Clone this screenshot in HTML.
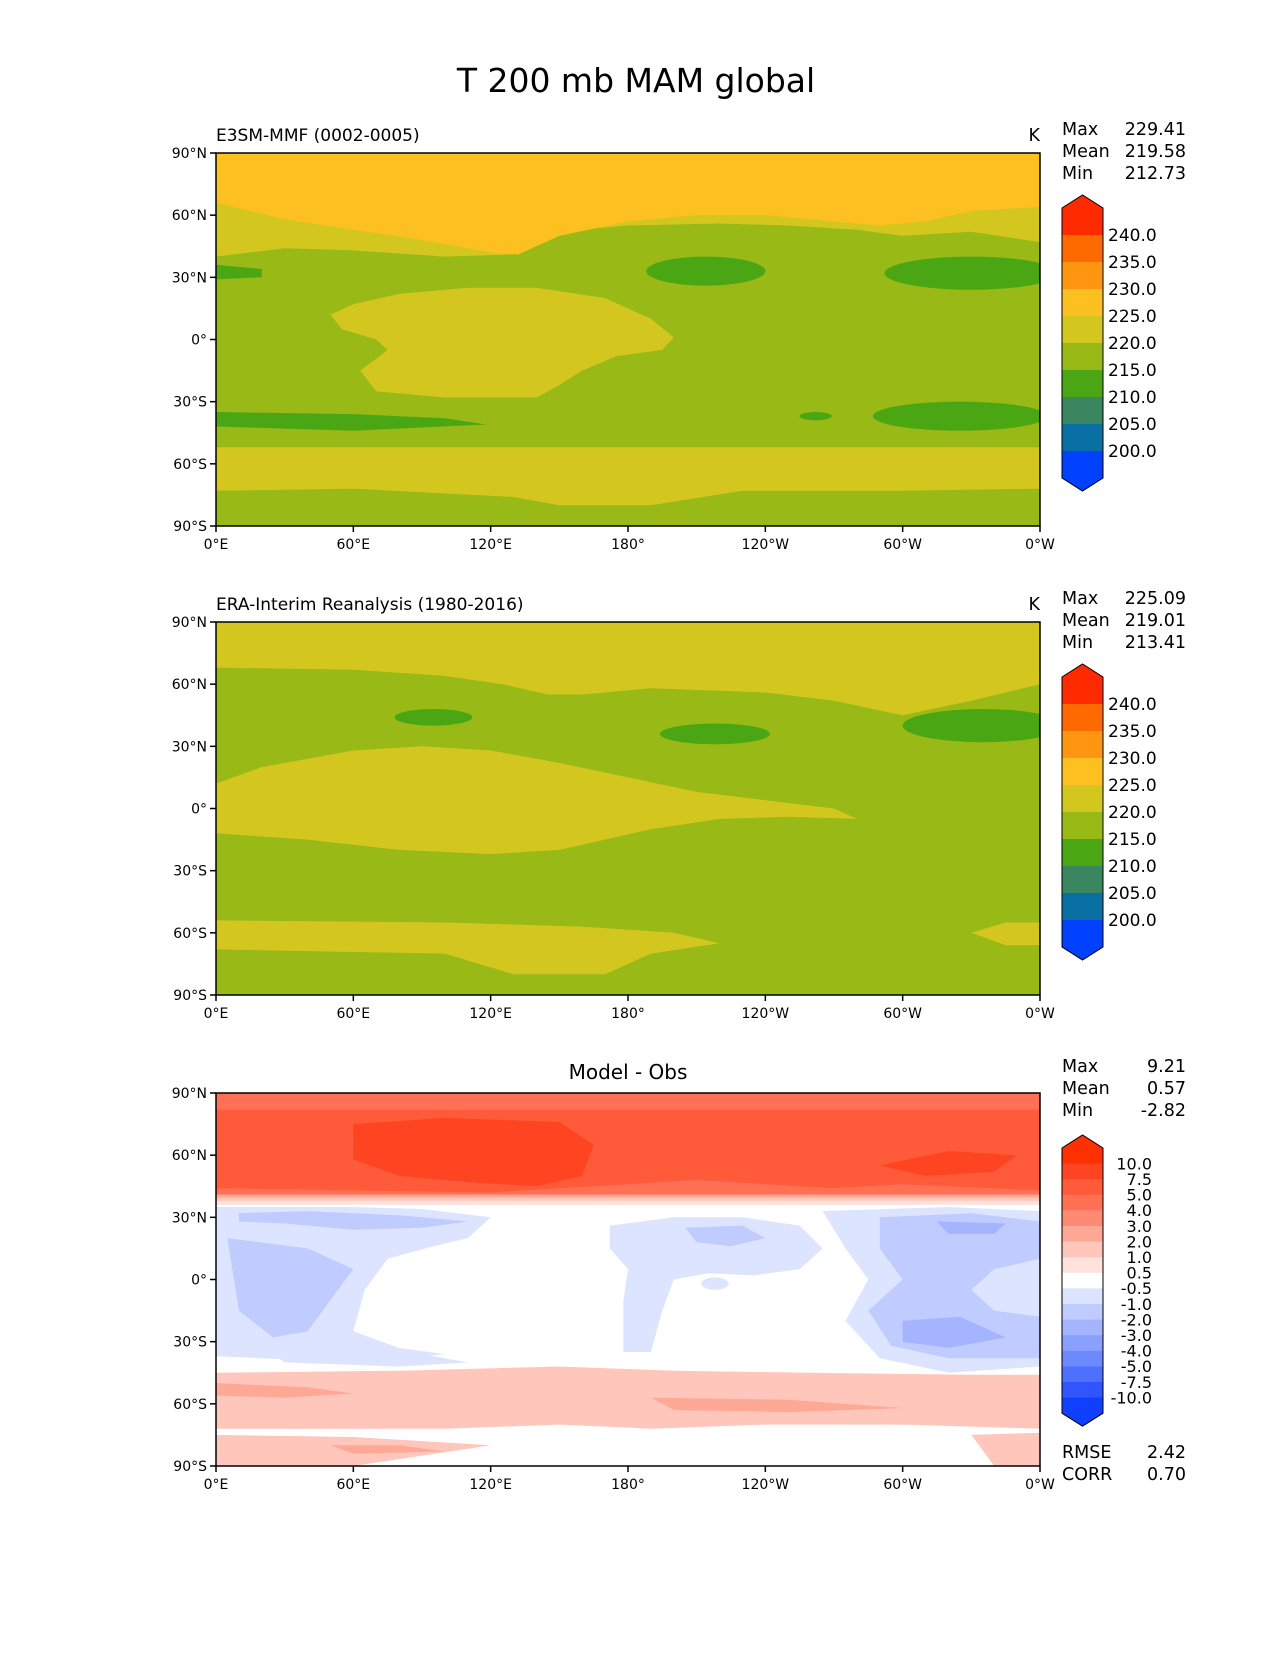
<!DOCTYPE html>
<html><head><meta charset="utf-8"><style>
html,body{margin:0;padding:0;background:#fff;}
svg text{font-family:"DejaVu Sans","Liberation Sans",sans-serif;fill:#000;}
</style></head><body>
<svg id="fig" width="1275" height="1650" viewBox="0 0 1275 1650" xmlns="http://www.w3.org/2000/svg">
<rect width="1275" height="1650" fill="#fff"/>
<text x="636" y="92" font-size="33" text-anchor="middle">T 200 mb MAM global</text>
</svg>
<script>
const latTicks = [90, 60, 30, 0, -30, -60, -90];
const latLabels = ["90°N","60°N","30°N","0°","30°S","60°S","90°S"];
const lonTicks = [0, 60, 120, 180, 240, 300, 360];
const lonLabels = ["0°E","60°E","120°E","180°","120°W","60°W","0°W"];
const absLevels = ["240.0","235.0","230.0","225.0","220.0","215.0","210.0","205.0","200.0"];
const absColors = ["#ff2a00","#ff6a00","#ff9510","#fcc020","#d3c71f","#98b916","#4ba614","#3a8660","#0a6fa2","#0040ff"];
const diffLevels = ["10.0","7.5","5.0","4.0","3.0","2.0","1.0","0.5","-0.5","-1.0","-2.0","-3.0","-4.0","-5.0","-7.5","-10.0"];
const diffColors = ["#ff3000","#ff4422","#ff5a3a","#ff7055","#ff8a74","#ffa896","#ffc6bb","#ffe2dc","#ffffff","#dde4ff","#c0cbff","#a4b4ff","#8aa0ff","#6c89ff","#4e70ff","#3055ff","#1040ff"];

// contour regions: [colorIndex, [[lon,lat],...]]
const e3smRegions = [
 [5, [[0,90],[360,90],[360,-90],[0,-90]]],
 [4, [[0,90],[360,90],[360,47],[330,52],[300,50],[280,53],[250,55],[220,56],[180,55],[150,52],[130,41],[100,40],[60,43],[30,44],[0,40]]],
 [3, [[0,90],[360,90],[360,64],[330,62],[310,57],[290,55],[270,57],[240,60],[210,60],[180,57],[150,50],[132,41],[120,42],[90,48],[60,53],[30,58],[0,66]]],
 [4, [[50,12],[60,17],[80,22],[110,25],[140,25],[170,20],[190,10],[200,1],[195,-5],[175,-8],[160,-15],[150,-22],[140,-28],[100,-28],[70,-25],[63,-15],[75,-5],[70,0],[55,5]]],
 [4, [[0,-52],[360,-52],[360,-72],[300,-73],[230,-73],[190,-80],[150,-80],[130,-76],[60,-72],[0,-73]]],
 [6, [[0,-35],[60,-36],[100,-38],[118,-41],[60,-44],[0,-42]]],
 [6, [[0,36],[20,34],[20,30],[0,29]]]
];
const e3smBlobs = [[6,214,33,26,7],[6,330,32,38,8],[6,325,-37,38,7],[6,262,-37,7,2]];
const eraRegions = [
 [5, [[0,90],[360,90],[360,-90],[0,-90]]],
 [4, [[0,90],[360,90],[360,60],[330,52],[300,45],[270,52],[240,56],[190,58],[160,55],[145,55],[125,60],[100,64],[60,67],[0,68]]],
 [4, [[0,12],[20,20],[60,28],[90,30],[120,28],[150,22],[180,15],[210,8],[240,4],[270,0],[280,-5],[250,-4],[220,-5],[190,-10],[170,-15],[150,-20],[120,-22],[80,-20],[40,-15],[0,-12]]],
 [4, [[0,-54],[100,-55],[160,-57],[200,-60],[220,-65],[190,-70],[170,-80],[130,-80],[100,-70],[0,-68]]],
 [4, [[330,-60],[345,-55],[360,-55],[360,-66],[345,-66]]]
];
const eraBlobs = [[6,95,44,17,4],[6,218,36,24,5],[6,335,40,35,8]];
const diffRegions = [
 [7, [[0,90],[360,90],[360,36],[0,36]]],
 [6, [[0,90],[360,90],[360,38],[0,38]]],
 [5, [[0,90],[360,90],[360,39.5],[0,39.5]]],
 [3, [[0,90],[360,90],[360,41],[0,41]]],
 [2, [[0,90],[360,90],[360,43],[300,46],[270,44],[240,46],[210,48],[180,46],[150,44],[120,42],[60,43],[0,44]]],
 [3, [[0,90],[360,90],[360,82],[0,82]]],
 [1, [[60,75],[100,78],[150,76],[165,65],[160,50],[140,45],[110,47],[80,50],[60,58]]],
 [1, [[290,55],[310,50],[340,52],[350,60],[320,62]]],
 [9, [[0,35],[60,35],[90,34],[120,30],[110,20],[95,16],[75,10],[65,-5],[60,-25],[80,-33],[100,-36],[60,-40],[20,-38],[0,-37]]],
 [10, [[10,32],[40,33],[80,31],[110,28],[90,25],[60,24],[30,27],[10,28]]],
 [10, [[5,20],[40,15],[60,5],[50,-10],[40,-25],[25,-28],[10,-15]]],
 [9, [[172,26],[200,30],[230,30],[255,26],[265,15],[255,5],[235,2],[215,3],[200,0],[195,-15],[190,-35],[178,-35],[178,-10],[180,5],[172,15]]],
 [10, [[205,25],[230,26],[240,20],[225,16],[210,18]]],
 [9, [[265,33],[320,35],[360,33],[360,-42],[320,-45],[290,-38],[275,-20],[285,0],[275,15]]],
 [10, [[290,30],[330,32],[360,28],[360,10],[340,5],[330,-5],[340,-15],[360,-18],[360,-38],[320,-38],[295,-32],[285,-15],[300,0],[290,15]]],
 [11, [[300,-20],[325,-18],[345,-28],[320,-33],[300,-30]]],
 [11, [[315,28],[345,27],[340,22],[320,22]]],
 [6, [[0,-45],[80,-44],[150,-42],[200,-44],[260,-45],[330,-46],[360,-46],[360,-72],[300,-70],[240,-70],[190,-72],[150,-70],[100,-72],[60,-72],[0,-72]]],
 [5, [[190,-57],[250,-58],[300,-62],[250,-64],[200,-63]]],
 [5, [[0,-50],[40,-52],[60,-55],[30,-57],[0,-56]]],
 [6, [[0,-75],[60,-76],[120,-80],[60,-90],[0,-90]]],
 [5, [[50,-80],[80,-80],[100,-83],[60,-84]]],
 [6, [[330,-75],[360,-74],[360,-90],[340,-90]]],
 [9, [[20,-32],[80,-34],[110,-40],[80,-42],[30,-40]]]
];
const diffBlobs = [[9,218,-2,6,3]];

const NS = "http://www.w3.org/2000/svg";
const svg = document.getElementById("fig");
function mk(tag, attrs, parent){ const e=document.createElementNS(NS,tag); for(const k in attrs) e.setAttribute(k,attrs[k]); (parent||svg).appendChild(e); return e; }
const X0 = 216, W = 824, H = 373;
function xs(lon){ return X0 + lon/360*W; }
function ys(lat, y0){ return y0 + (90-lat)/180*H; }

function drawPanel(y0, key, regions, blobs, colors){
  const g = mk("g", {});
  
  
  const cid = "clip-"+key;
  const cp = mk("clipPath", {id:cid}, g);
  mk("rect", {x:X0,y:y0,width:W,height:H}, cp);
  const inner = mk("g", {"clip-path":"url(#"+cid+")"}, g);
  regions.forEach(r=>{
    const p = mk("polygon", {points: r[1].map(q=>xs(q[0]).toFixed(1)+","+ys(q[1],y0).toFixed(1)).join(" "), fill: colors[r[0]]}, inner);
    
    
  });
  blobs.forEach(b=>{
    const e = mk("ellipse", {cx:xs(b[1]), cy:ys(b[2],y0), rx:b[3]/360*W, ry:b[4]/180*H, fill:colors[b[0]]}, inner);
    
    
  });
  const fr = mk("rect", {x:X0,y:y0,width:W,height:H,fill:"none",stroke:"#000","stroke-width":1.5}, g);
  
  
  latTicks.forEach((v,i)=>{
    const y = ys(v,y0);
    mk("line",{x1:X0-6,x2:X0,y1:y,y2:y,stroke:"#000","stroke-width":1.5},g);
    const t = mk("text",{x:X0-9,y:y+5,"font-size":14,"text-anchor":"end"},g);
    t.textContent = latLabels[i];
    
    
  });
  lonTicks.forEach((v,i)=>{
    const x = xs(v);
    mk("line",{x1:x,x2:x,y1:y0+H,y2:y0+H+6,stroke:"#000","stroke-width":1.5},g);
    const t = mk("text",{x:x,y:y0+H+23,"font-size":14,"text-anchor":"middle"},g);
    t.textContent = lonLabels[i];
    
    
  });
}
function txt(x,y,s,size,anchor,name){
  const t = mk("text",{x:x,y:y,"font-size":size,"text-anchor":anchor||"start"});
  t.textContent = s;
  
  
}
function stats(y, vals){
  ["Max","Mean","Min"].forEach((n,i)=>{
    txt(1062, y+i*22, n, 17.5, "start", "stat-label-"+n.toLowerCase());
    txt(1186, y+i*22, vals[i], 17.5, "end", "stat-value-"+n.toLowerCase());
  });
}
function colorbar(top, seg, colors, labels, labelX, anchor, fs, name){
  const g = mk("g",{});
  
  
  const x1=1062, x2=1103, n=colors.length, bot=top+seg*n;
  mk("polygon",{points:`${x1},${top} ${(x1+x2)/2},${top-13} ${x2},${top}`,fill:colors[0]},g);
  mk("polygon",{points:`${x1},${bot} ${(x1+x2)/2},${bot+13} ${x2},${bot}`,fill:colors[n-1]},g);
  colors.forEach((c,i)=>{ mk("rect",{x:x1,y:top+i*seg,width:x2-x1,height:seg+0.5,fill:c},g); });
  mk("polygon",{points:`${x1},${top} ${(x1+x2)/2},${top-13} ${x2},${top} ${x2},${bot} ${(x1+x2)/2},${bot+13} ${x1},${bot}`,fill:"none",stroke:"#000","stroke-width":1},g);
  labels.forEach((l,i)=>{
    const t = mk("text",{x:labelX,y:top+(i+1)*seg+fs*0.36,"font-size":fs,"text-anchor":anchor},g);
    t.textContent = l;
    
    
  });
}
// Panel 1
drawPanel(153, "e3sm", e3smRegions, e3smBlobs, absColors);
txt(216, 141, "E3SM-MMF (0002-0005)", 17, "start", "panel1-title");
txt(1040, 141, "K", 17.5, "end", "panel1-units");
stats(135, ["229.41","219.58","212.73"]);
colorbar(208, 27, absColors, absLevels, 1108, "start", 17, "colorbar-1");
// Panel 2
drawPanel(622, "era", eraRegions, eraBlobs, absColors);
txt(216, 610, "ERA-Interim Reanalysis (1980-2016)", 17, "start", "panel2-title");
txt(1040, 610, "K", 17.5, "end", "panel2-units");
stats(604, ["225.09","219.01","213.41"]);
colorbar(677, 27, absColors, absLevels, 1108, "start", 17, "colorbar-2");
// Panel 3
drawPanel(1093, "diff", diffRegions, diffBlobs, diffColors);
txt(628, 1079, "Model - Obs", 20, "middle", "panel3-title");
stats(1072, ["9.21","0.57","-2.82"]);
colorbar(1148, 15.6, diffColors, diffLevels, 1152, "end", 16, "colorbar-3");
txt(1062, 1458, "RMSE", 17.5, "start", "rmse-label");
txt(1186, 1458, "2.42", 17.5, "end", "rmse-value");
txt(1062, 1480, "CORR", 17.5, "start", "corr-label");
txt(1186, 1480, "0.70", 17.5, "end", "corr-value");
</script>
</body></html>
